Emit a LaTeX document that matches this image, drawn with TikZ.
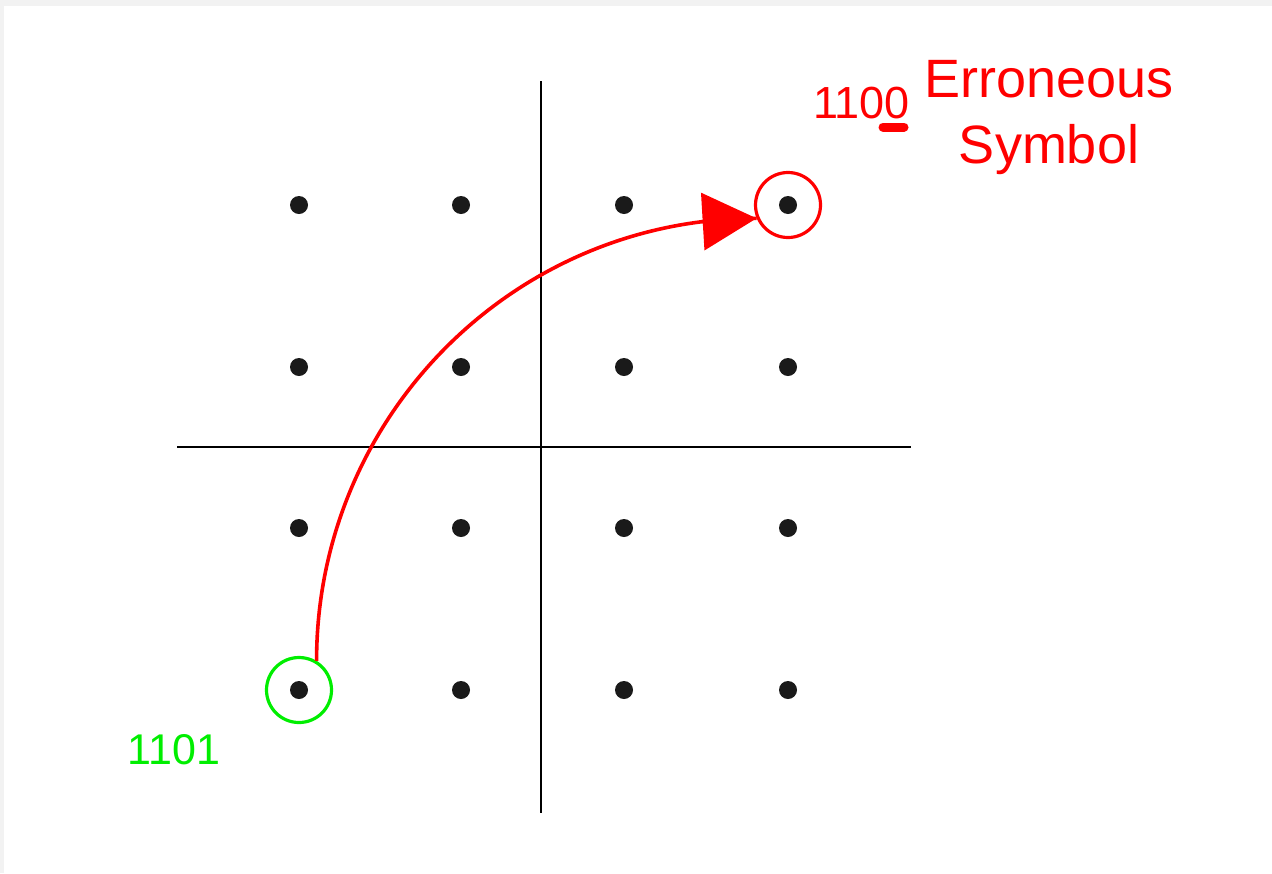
\documentclass[tikz,border=0pt]{standalone}
\usepackage{fontspec}
\setmainfont{Liberation Sans}
\usetikzlibrary{arrows.meta}
\definecolor{bgray}{HTML}{F2F2F2}
\definecolor{dotc}{HTML}{1A1A1A}
\definecolor{ered}{HTML}{FF0000}
\definecolor{egreen}{HTML}{00EE00}
\tikzset{
  dotnode/.style={circle,fill=dotc,inner sep=0pt,minimum size=9pt},
  axisline/.style={draw=black,line width=0.9pt},
  ring/.style={circle,draw=#1,line width=1.6pt,inner sep=0pt,minimum size=32.5pt},
  lbl/.style={inner sep=0pt,font=\fontsize{#1}{24}\selectfont},
  biglbl/.style={inner sep=0pt,anchor=base,text=ered,font=\fontsize{27}{30}\selectfont},
  errline/.style={draw=ered,line width=1.8pt},
  errtip/.style={draw=ered,line width=1.8pt,-{Triangle[length=27pt,width=28.5pt]}}
}
\begin{document}
\begin{tikzpicture}[x=0.5pt,y=-0.5pt]
\useasboundingbox (0,0) rectangle (1272,873);
\fill[bgray] (0,0) rectangle (1272,873);
\fill[white] (4,6) rectangle (1272,873);
% axes
\coordinate (vt) at (541,81);
\coordinate (vb) at (541,813);
\coordinate (hl) at (177,447);
\coordinate (hr) at (911,447);
\draw[axisline] (vt) -- (vb);
\draw[axisline] (hl) -- (hr);
% constellation points
\foreach \x [count=\i] in {299,461,624,788}{
  \foreach \y [count=\j] in {205,367,528,690}{
    \node[dotnode] (p\i\j) at (\x,\y) {};
  }
}
% rings
\node[ring=egreen] (g) at (p14) {};
\node[ring=ered] (r) at (p41) {};
% arrow: circular arc, then the head
\coordinate (ah) at (702,221.6);
\draw[errline] (g.59) to[out=90,in=180] (r.203);
\draw[errtip] (ah) -- (r.203);
% labels
\node[lbl=21.5,text=egreen] (l1101) at (174,750) {1101};
\node[lbl=22.5,text=ered] (l1100) at (861.5,103) {1100};
\coordinate (ua) at (883,127);
\coordinate (ub) at (904,127);
\draw[ered,line width=4.5pt,line cap=round] (ua) -- (ub);
\node[biglbl] (err) at (1049,97) {Erroneous};
\node[biglbl] (sym) at (1049,163) {Symbol};
\end{tikzpicture}
\end{document}
